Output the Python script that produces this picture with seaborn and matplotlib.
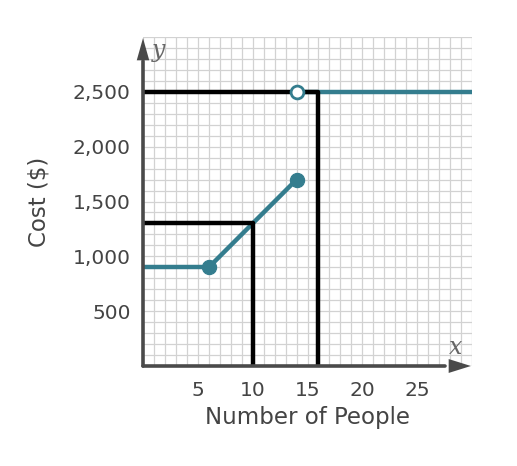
import numpy as np
import pandas as pd
import matplotlib
matplotlib.use("Agg")
import matplotlib.pyplot as plt
import seaborn as sns

# ---- data ----
flat_x = [0, 6]
flat_y = [900, 900]
ramp_x = [6, 14]
ramp_y = [900, 1700]
top_x = [14, 30]
top_y = [2500, 2500]
closed_x = [6, 14]
closed_y = [900, 1700]
open_x = [14]
open_y = [2500]
guide1_x = [0, 10, 10]
guide1_y = [1300, 1300, 0]
guide2_x = [0, 16, 16]
guide2_y = [2500, 2500, 0]
x_ticks = [5, 10, 15, 20, 25]
y_ticks = [500, 1000, 1500, 2000, 2500]
y_tick_labels = ["500", "1,000", "1,500", "2,000", "2,500"]

teal = "#347d8e"
axis_col = "#4a4a4a"
text_col = "#444444"

sns.set_style("white")
plt.rcParams['font.family'] = ['DejaVu Sans']

fig = plt.figure(figsize=(5.17, 4.66), dpi=100)
ax = fig.add_axes([143 / 517, 100 / 466, 329 / 517, 329 / 466])

# grid: one cell per person and per $100
ax.set_xlim(0, 30)
ax.set_ylim(0, 3000)
ax.set_xticks(np.arange(0, 31, 1), minor=True)
ax.set_yticks(np.arange(0, 3001, 100), minor=True)
ax.grid(which="both", color="#d2d2d2", linewidth=0.9)
ax.set_axisbelow(True)

# guide lines (black) - no aggregation, keep point order
sns.lineplot(x=guide1_x, y=guide1_y, sort=False, estimator=None, color="black",
             linewidth=3.2, ax=ax, zorder=4)
sns.lineplot(x=guide2_x, y=guide2_y, sort=False, estimator=None, color="black",
             linewidth=3.2, ax=ax, zorder=4)

# piecewise function
for xs, ys in [(flat_x, flat_y), (ramp_x, ramp_y), (top_x, top_y)]:
    sns.lineplot(x=xs, y=ys, estimator=None, color=teal, linewidth=3.2, ax=ax, zorder=3)
sns.scatterplot(x=closed_x, y=closed_y, color=teal, s=105, edgecolor=teal, ax=ax, zorder=5)
sns.scatterplot(x=open_x, y=open_y, color="white", s=85, edgecolor=teal, linewidth=2, ax=ax, zorder=5)

# axes with arrows
for s in ["top", "right", "left", "bottom"]:
    ax.spines[s].set_visible(False)
ax.plot([0, 0], [0, 2780], color=axis_col, lw=2.6, clip_on=False, zorder=6)
ax.plot([0, 27.5], [0, 0], color=axis_col, lw=2.6, clip_on=False, zorder=6)
ax.annotate("", xy=(0, 2990), xytext=(0, 2720),
            arrowprops=dict(arrowstyle="-|>,head_length=1.6,head_width=0.45",
                            color=axis_col, lw=0, shrinkA=0, shrinkB=0),
            annotation_clip=False, zorder=7)
ax.annotate("", xy=(29.9, 0), xytext=(27.2, 0),
            arrowprops=dict(arrowstyle="-|>,head_length=1.6,head_width=0.5",
                            color=axis_col, lw=0, shrinkA=0, shrinkB=0),
            annotation_clip=False, zorder=7)

ax.set_xticks(x_ticks)
ax.set_yticks(y_ticks)
ax.set_yticklabels(y_tick_labels)
ax.tick_params(axis="both", which="major", direction="inout", length=8, width=2,
               color=axis_col, labelsize=14.5, labelcolor=text_col)
ax.tick_params(axis="x", pad=7)
ax.tick_params(axis="y", pad=5)
ax.tick_params(which="minor", length=0)

ax.set_xlabel("Number of People", fontsize=16.5, color=text_col, labelpad=4)
ax.set_ylabel("Cost ($)", fontsize=16.5, color=text_col, labelpad=16)

ax.text(1.4, 2880, "y", fontsize=17, style="italic", family="DejaVu Serif",
        color="#666666", ha="center", va="center")
ax.text(28.5, 170, "x", fontsize=17, style="italic", family="DejaVu Serif",
        color="#666666", ha="center", va="center")

fig.savefig("out.png", dpi=100)
